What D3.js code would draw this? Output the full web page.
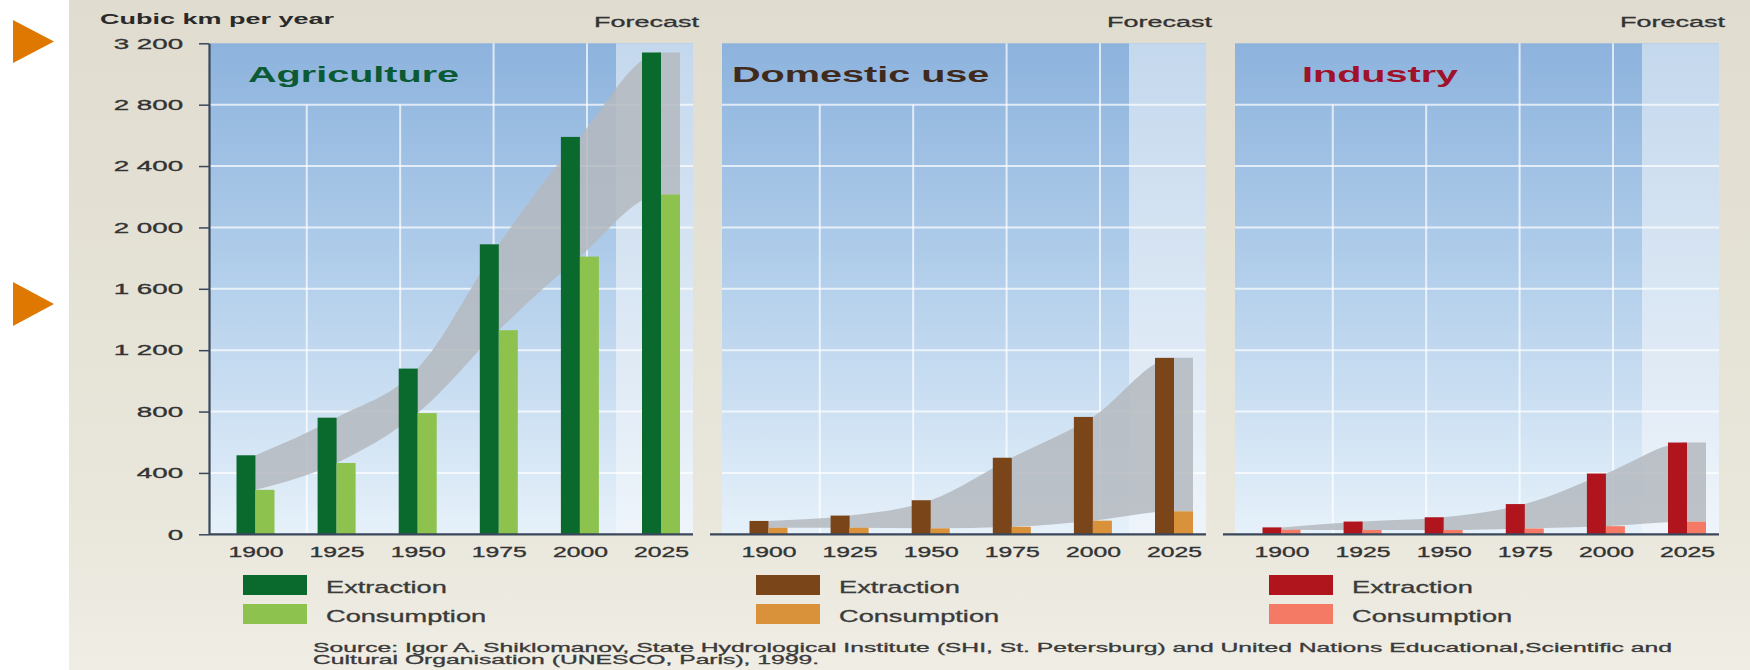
<!DOCTYPE html>
<html>
<head>
<meta charset="utf-8">
<script src="https://cdn.jsdelivr.net/npm/d3@7"></script>
<style>
  html, body { margin: 0; padding: 0; background: #ffffff; }
  svg { display: block; }
  text { font-family: "Liberation Sans", Arial, Helvetica, sans-serif; }
</style>
</head>
<body>
<svg id="chart" width="1750" height="670"></svg>
<script>
// ---- data (cubic km per year) ----
const years = [1900, 1925, 1950, 1975, 2000, 2025];
const yTicks = [0, 400, 800, 1200, 1600, 2000, 2400, 2800, 3200];
const sectorTitles = ["Agriculture", "Domestic use", "Industry"];
const seriesNames = ["Extraction", "Consumption"];
const agricultureExtraction = [515, 760, 1080, 1890, 2590, 3140];
const agricultureConsumption = [290, 465, 790, 1330, 1810, 2215];
const domesticExtraction = [87, 122, 222, 499, 765, 1150];
const domesticConsumption = [43, 43, 39, 49, 89, 150];
const industryExtraction = [45, 83, 111, 197, 396, 598];
const industryConsumption = [30, 28, 28, 38, 53, 82];
const yTitle = "Cubic km per year";
const forecastLabel = "Forecast";
const sourceLines = [
  "Source: Igor A. Shiklomanov, State Hydrological Institute (SHI, St. Petersburg) and United Nations Educational,Scientific and",
  "Cultural Organisation (UNESCO, Paris), 1999."
];

// ---- panel styling ----
const panels = [
  { title: sectorTitles[0], ext: agricultureExtraction, cons: agricultureConsumption,
    colors: ["#0a6a2e", "#8ec24f"], titleColor: "#0b5a34", titleDx: 39 },
  { title: sectorTitles[1], ext: domesticExtraction, cons: domesticConsumption,
    colors: ["#7a4519", "#d9913a"], titleColor: "#3f2a1c", titleDx: 10 },
  { title: sectorTitles[2], ext: industryExtraction, cons: industryConsumption,
    colors: ["#b0141c", "#f47a66"], titleColor: "#a0112a", titleDx: 67 }
];

const W = 1750, H = 670;
const plotTop = 43.3, plotBottom = 534.3;
const firstLeft = 209, panelStep = 513, panelWidth = 484;
const forecastFrom = 407;          // offset of the forecast shading in each panel
const stretch = { tick: 1.85, year: 1.65, title: 1.8, label: 1.8, legend: 1.7, source: 1.9 };

const svg = d3.select("#chart");
const defs = svg.append("defs");

function vGradient(id, stops) {
  const g = defs.append("linearGradient").attr("id", id)
    .attr("x1", 0).attr("y1", 0).attr("x2", 0).attr("y2", 1);
  stops.forEach(([o, c]) => g.append("stop").attr("offset", o).attr("stop-color", c));
}
vGradient("bg", [[0, "#e0dccf"], [0.7, "#e8e6da"], [1, "#efede4"]]);
vGradient("plot", [[0, "#8db3dd"], [0.45, "#b0cdea"], [1, "#e6f1fa"]]);
vGradient("forecast", [[0, "#c4d8ed"], [1, "#eef4fa"]]);

// horizontally stretched text helper
function stext(parent, x, y, str, opts) {
  return parent.append("text")
    .attr("transform", `translate(${x},${y}) scale(${opts.sx},1)`)
    .attr("text-anchor", opts.anchor || "start")
    .attr("font-size", opts.size)
    .attr("font-weight", opts.weight || "normal")
    .attr("fill", opts.fill || "#333")
    .attr("stroke", opts.weight === "bold" ? "none" : (opts.fill || "#333"))
    .attr("stroke-width", 0.3)
    .text(str);
}

// page background and margin markers
svg.append("rect").attr("x", 0).attr("y", 0).attr("width", W).attr("height", H).attr("fill", "#ffffff");
svg.append("rect").attr("x", 69).attr("y", 0).attr("width", W - 69).attr("height", H).attr("fill", "url(#bg)");
const tri = d3.line();
[[20, 63], [282, 326]].forEach(([t, b]) => {
  svg.append("path")
    .attr("d", tri([[13, t], [13, b], [54, (t + b) / 2]]) + "Z")
    .attr("fill", "#de7800");
});

const y = d3.scaleLinear().domain([0, 3200]).range([plotBottom, plotTop]);
const fmt = d3.formatLocale({ decimal: ".", thousands: " ", grouping: [3], currency: ["", ""] }).format(",");
const gridFrac = d3.scaleLinear().domain([0, 1]).range([0, panelWidth]);
const gridCols = [0.202, 0.395, 0.588, 0.781];

panels.forEach((p, i) => {
  const left = firstLeft + i * panelStep;
  const right = left + panelWidth;
  const g = svg.append("g");

  const x = d3.scalePoint().domain(years).range([left + 46.5, left + 452]);
  const inner = d3.scaleBand().domain(["ext", "cons"]).range([-19, 19]);

  // plot background
  g.append("rect").attr("x", left).attr("y", plotTop)
    .attr("width", panelWidth).attr("height", plotBottom - plotTop).attr("fill", "url(#plot)");
  g.append("rect").attr("x", left + forecastFrom).attr("y", plotTop)
    .attr("width", panelWidth - forecastFrom).attr("height", plotBottom - plotTop).attr("fill", "url(#forecast)");

  // grid
  g.selectAll(".hgrid").data(yTicks.filter(t => t > 0 && t < 3200)).join("line")
    .attr("x1", left).attr("x2", right)
    .attr("y1", d => y(d)).attr("y2", d => y(d))
    .attr("stroke", "#ffffff").attr("stroke-opacity", 0.7).attr("stroke-width", 2);
  g.selectAll(".vgrid").data(gridCols).join("line")
    .attr("x1", d => left + gridFrac(d)).attr("x2", d => left + gridFrac(d))
    .attr("y1", (d, k) => k < 2 ? y(2800) : plotTop).attr("y2", plotBottom)
    .attr("stroke", "#ffffff").attr("stroke-opacity", 0.7).attr("stroke-width", 2);

  // ribbon between extraction and consumption
  const pts = years.map((yr, j) => ({ x: x(yr), ext: p.ext[j], cons: p.cons[j] }));
  const last = pts[pts.length - 1];
  pts.push({ x: last.x + inner.bandwidth(), ext: last.ext, cons: last.cons });
  const area = d3.area().x(d => d.x).y0(d => y(d.cons)).y1(d => y(d.ext)).curve(d3.curveMonotoneX);
  g.append("path").attr("d", area(pts)).attr("fill", "#b4b8be").attr("fill-opacity", 0.85);

  // bars
  const rows = years.map((yr, j) => ({ year: yr, ext: p.ext[j], cons: p.cons[j] }));
  ["ext", "cons"].forEach((key, k) => {
    g.selectAll(".bar-" + key).data(rows).join("rect")
      .attr("x", d => x(d.year) + inner(key))
      .attr("width", inner.bandwidth())
      .attr("y", d => y(d[key]))
      .attr("height", d => y(0) - y(d[key]))
      .attr("fill", p.colors[k]);
  });

  // baseline
  g.append("line").attr("x1", i === 0 ? left : left - 12).attr("x2", right)
    .attr("y1", y(0)).attr("y2", y(0)).attr("stroke", "#3a475a").attr("stroke-width", 2.2);

  // year axis
  const xAxis = g.append("g").attr("transform", `translate(0,${y(0)})`)
    .call(d3.axisBottom(x).tickSize(0).tickPadding(11.7));
  xAxis.select(".domain").remove();
  xAxis.selectAll("text")
    .attr("font-size", 15).attr("fill", "#333").attr("stroke", "#333").attr("stroke-width", 0.35)
    .attr("font-family", "Liberation Sans, Arial, sans-serif")
    .attr("transform", `scale(${stretch.year},1)`);

  // title and forecast label
  stext(g, left + p.titleDx, 82, p.title, { sx: stretch.title, size: 22, weight: "bold", fill: p.titleColor });
  stext(g, right + 6, 27, forecastLabel, { sx: stretch.label, size: 15, anchor: "end", fill: "#333" });

  // legend
  seriesNames.forEach((name, k) => {
    const ly = 575 + k * 29;
    g.append("rect").attr("x", left + 34).attr("y", ly).attr("width", 64).attr("height", 20)
      .attr("fill", p.colors[k]);
    stext(g, left + 117, ly + 17.5, name, { sx: stretch.legend, size: 16, fill: "#3a3a3a" });
  });

  // value axis on the first panel
  if (i === 0) {
    const yAxis = g.append("g").attr("transform", `translate(${left},0)`)
      .call(d3.axisLeft(y).tickValues(yTicks).tickSize(10).tickSizeOuter(0).tickPadding(4).tickFormat(fmt));
    yAxis.select(".domain").attr("stroke", "#3a475a").attr("stroke-width", 2.2);
    yAxis.selectAll(".tick line").attr("stroke", "#3a475a").attr("stroke-width", 1.5);
    yAxis.selectAll("text")
      .attr("font-size", 15).attr("fill", "#333").attr("stroke", "#333").attr("stroke-width", 0.35)
      .attr("font-family", "Liberation Sans, Arial, sans-serif")
      .attr("transform", `scale(${stretch.tick},1)`);
  }
});

// axis title and source note
stext(svg, 100, 24, yTitle, { sx: stretch.label, size: 15, weight: "bold", fill: "#2a2a2a" });
sourceLines.forEach((line, k) => {
  stext(svg, 313, 652 + k * 12, line, { sx: stretch.source, size: 13, fill: "#3a3a3a" });
});
</script>
</body>
</html>
